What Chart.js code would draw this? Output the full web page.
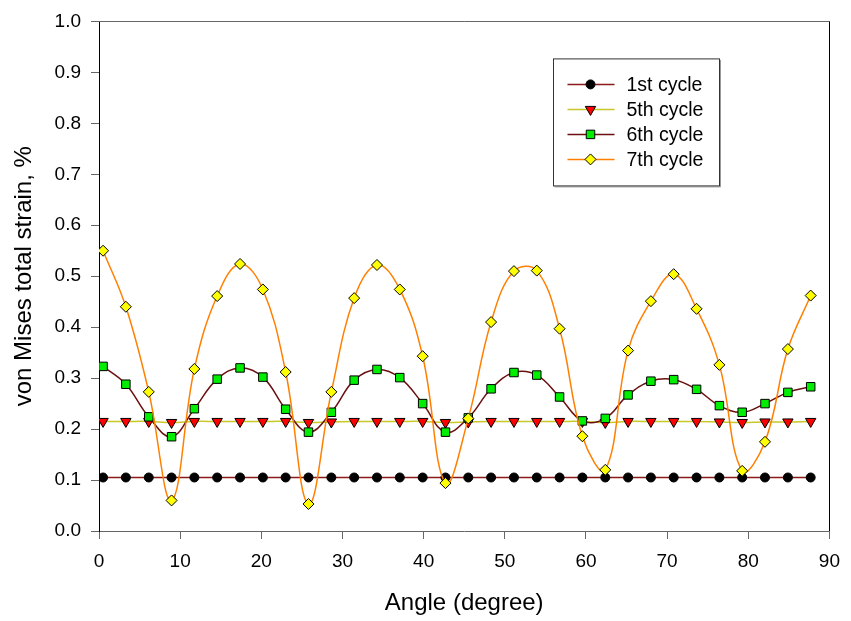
<!DOCTYPE html>
<html>
<head>
<meta charset="utf-8">
<script src="https://cdn.jsdelivr.net/npm/chart.js@4.4.1/dist/chart.umd.min.js"></script>
<style>
  html, body { margin: 0; padding: 0; background: #fff; }
</style>
</head>
<body>
<canvas id="grafico" width="851" height="621"></canvas>
<script>
// Angulo de cada medida (grados)
var angulos = [0.5, 3.31, 6.13, 8.94, 11.75, 14.56, 17.38, 20.19, 23.0, 25.81, 28.63,
  31.44, 34.25, 37.06, 39.88, 42.69, 45.5, 48.31, 51.13, 53.94, 56.75,
  59.56, 62.38, 65.19, 68.0, 70.81, 73.63, 76.44, 79.25, 82.06, 84.88, 87.69];

// Deformacion total de von Mises (%) por ciclo
var ciclo1 = [0.105, 0.105, 0.105, 0.105, 0.105, 0.105, 0.105, 0.105, 0.105, 0.105, 0.105,
  0.105, 0.105, 0.105, 0.105, 0.105, 0.105, 0.105, 0.105, 0.105, 0.105,
  0.105, 0.105, 0.105, 0.105, 0.105, 0.105, 0.105, 0.105, 0.105, 0.105, 0.105];
var ciclo5 = [0.215, 0.215, 0.215, 0.213, 0.215, 0.215, 0.215, 0.215, 0.215, 0.213, 0.214,
  0.215, 0.215, 0.215, 0.215, 0.213, 0.214, 0.215, 0.215, 0.215, 0.215,
  0.215, 0.213, 0.215, 0.215, 0.215, 0.215, 0.214, 0.213, 0.214, 0.214, 0.215];
var ciclo6 = [0.323, 0.288, 0.224, 0.185, 0.240, 0.298, 0.320, 0.302, 0.239, 0.194, 0.233,
  0.296, 0.317, 0.301, 0.250, 0.194, 0.222, 0.279, 0.311, 0.306, 0.263,
  0.216, 0.221, 0.267, 0.294, 0.297, 0.278, 0.246, 0.233, 0.250, 0.272, 0.283];
var ciclo7 = [0.550, 0.440, 0.273, 0.060, 0.318, 0.461, 0.524, 0.474, 0.312, 0.053, 0.273,
  0.457, 0.522, 0.474, 0.343, 0.094, 0.221, 0.410, 0.510, 0.511, 0.397,
  0.186, 0.120, 0.354, 0.451, 0.504, 0.436, 0.326, 0.118, 0.175, 0.357, 0.462];

var nombresSeries = ["1st cycle", "5th cycle", "6th cycle", "7th cycle"];

var fuente = "'Liberation Sans', Arial, sans-serif";

function armarSerie(valores) {
  var puntos = [];
  for (let i = 0; i < valores.length; i++) {
    puntos.push({ x: angulos[i], y: valores[i] });
  }
  return puntos;
}

// Marco superior y derecho del grafico
const pluginMarco = {
  id: "marco",
  afterDraw(chart) {
    const ctx = chart.ctx;
    const a = chart.chartArea;
    ctx.save();
    ctx.lineWidth = 1;
    ctx.strokeStyle = "#666";
    ctx.beginPath();
    ctx.moveTo(a.left, Math.round(a.top) + 0.5);
    ctx.lineTo(a.right, Math.round(a.top) + 0.5);
    ctx.stroke();
    ctx.strokeStyle = "#000";
    ctx.beginPath();
    ctx.moveTo(Math.round(a.right) + 0.5, a.top);
    ctx.lineTo(Math.round(a.right) + 0.5, a.bottom);
    ctx.stroke();
    ctx.restore();
  }
};

// Leyenda con recuadro dentro del area del grafico
const pluginLeyenda = {
  id: "leyendaCaja",
  afterDraw(chart) {
    const ctx = chart.ctx;
    const a = chart.chartArea;
    const x0 = a.left + 454.5;
    const y0 = a.top + 37.5;
    const ancho = 166;
    const alto = 127;
    ctx.save();
    ctx.fillStyle = "#fff";
    ctx.fillRect(x0, y0, ancho, alto);
    ctx.strokeStyle = "#999";
    ctx.lineWidth = 1;
    ctx.beginPath();
    ctx.moveTo(x0 + ancho + 1, y0 + 1);
    ctx.lineTo(x0 + ancho + 1, y0 + alto + 1);
    ctx.lineTo(x0 + 1, y0 + alto + 1);
    ctx.stroke();
    ctx.strokeStyle = "#333";
    ctx.strokeRect(x0, y0, ancho, alto);

    chart.data.datasets.forEach(function (ds, i) {
      const y = y0 + 25.5 + i * 25;
      ctx.strokeStyle = ds.borderColor;
      ctx.lineWidth = ds.borderWidth;
      ctx.beginPath();
      ctx.moveTo(x0 + 14, y);
      ctx.lineTo(x0 + 61, y);
      ctx.stroke();
      // el marcador usa los colores de la serie
      ctx.fillStyle = ds.pointBackgroundColor;
      ctx.strokeStyle = ds.pointBorderColor;
      ctx.lineWidth = ds.pointBorderWidth;
      Chart.helpers.drawPoint(ctx, {
        pointStyle: ds.pointStyle,
        rotation: ds.pointRotation || 0,
        radius: ds.pointRadius,
        borderWidth: ds.pointBorderWidth
      }, x0 + 37, y);
      ctx.fillStyle = "#000";
      ctx.font = "19.5px " + fuente;
      ctx.textBaseline = "middle";
      ctx.fillText(ds.label, x0 + 73, y + 1);
    });
    ctx.restore();
  }
};

function dibujarGrafico() {
  const datos = {
    datasets: [
      {
        label: nombresSeries[0],
        data: armarSerie(ciclo1),
        borderColor: "#8b1a1a",
        borderWidth: 1.5,
        pointStyle: "circle",
        pointRadius: 4.5,
        pointBackgroundColor: "#000",
        pointBorderColor: "#000",
        pointBorderWidth: 1,
        order: 4
      },
      {
        label: nombresSeries[1],
        data: armarSerie(ciclo5),
        borderColor: "#c8c828",
        borderWidth: 1.5,
        pointStyle: "triangle",
        pointRotation: 180,
        pointRadius: 6,
        pointBackgroundColor: "#ff0000",
        pointBorderColor: "#000",
        pointBorderWidth: 1,
        order: 3
      },
      {
        label: nombresSeries[2],
        data: armarSerie(ciclo6),
        borderColor: "#6b1010",
        borderWidth: 1.5,
        pointStyle: "rect",
        pointRadius: 6,
        pointBackgroundColor: "#00ee00",
        pointBorderColor: "#000",
        pointBorderWidth: 1,
        order: 2
      },
      {
        label: nombresSeries[3],
        data: armarSerie(ciclo7),
        borderColor: "#ff8000",
        borderWidth: 1.5,
        pointStyle: "rectRot",
        pointRadius: 5.5,
        pointBackgroundColor: "#ffff00",
        pointBorderColor: "#000",
        pointBorderWidth: 1,
        order: 1
      }
    ]
  };

  const config = {
    type: "line",
    data: datos,
    options: {
      responsive: false,
      animation: false,
      devicePixelRatio: 1,
      elements: { line: { tension: 0.4, fill: false } },
      layout: { padding: { left: 0, right: 18, top: 20, bottom: 0 } },
      plugins: { legend: { display: false }, tooltip: { enabled: false } },
      scales: {
        x: {
          type: "linear",
          min: 0,
          max: 90,
          ticks: { stepSize: 10, color: "#000", padding: 11, font: { size: 19, family: fuente } },
          grid: { drawOnChartArea: false, drawTicks: true, tickLength: 8, color: "#666" },
          border: { color: "#666", width: 1 },
          title: {
            display: true,
            text: "Angle (degree)",
            color: "#000",
            font: { size: 24, family: fuente },
            padding: { top: 0, bottom: 3 }
          },
          afterFit: function (escala) { escala.height = 90; }
        },
        y: {
          type: "linear",
          min: 0,
          max: 1,
          ticks: {
            stepSize: 0.1,
            color: "#000",
            padding: 10,
            font: { size: 19, family: fuente },
            callback: function (v) { return v.toFixed(1); }
          },
          grid: { drawOnChartArea: false, drawTicks: true, tickLength: 8, color: "#666" },
          border: { color: "#000", width: 1 },
          title: {
            display: true,
            text: "von Mises total strain, %",
            color: "#000",
            font: { size: 24, family: fuente },
            padding: { top: 10, bottom: 0 }
          },
          afterFit: function (escala) { escala.width = 99; }
        }
      }
    },
    plugins: [pluginMarco, pluginLeyenda]
  };

  const ctx = document.getElementById("grafico").getContext("2d");
  new Chart(ctx, config);
}

dibujarGrafico();
</script>
</body>
</html>
